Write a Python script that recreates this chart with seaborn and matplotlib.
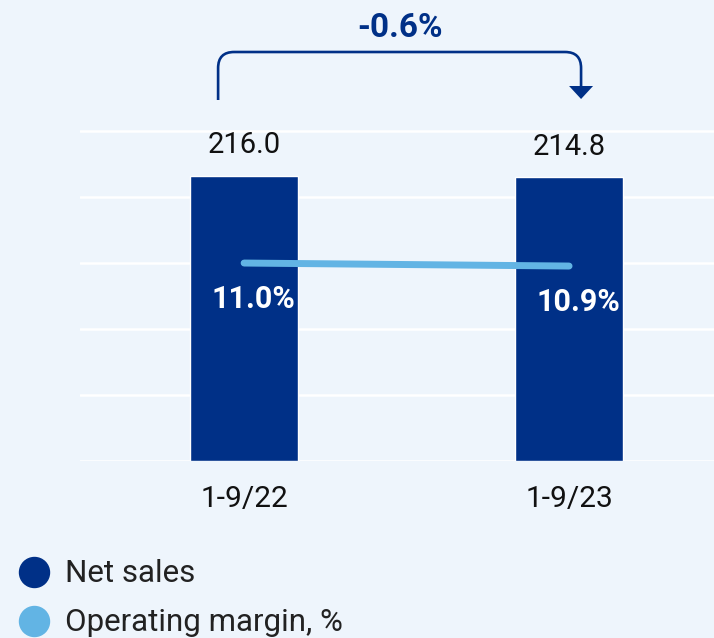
import numpy as np
import pandas as pd
import seaborn as sns
import matplotlib.pyplot as plt
from matplotlib.path import Path
from matplotlib.patches import PathPatch, Polygon
from matplotlib.lines import Line2D
from matplotlib.transforms import IdentityTransform

# data
periods = ['1-9/22', '1-9/23']
net_sales = [216.0, 214.8]
op_margin = [11.0, 10.9]
change_label = '-0.6%'
legend_labels = ['Net sales', 'Operating margin, %']

navy = '#003087'
light = '#62B4E4'
bg = '#EEF5FC'

sns.set_style('white', rc={'axes.facecolor': bg, 'figure.facecolor': bg})
plt.rcParams['font.family'] = ['Roboto', 'DejaVu Sans']

df = pd.DataFrame({'period': periods, 'sales': net_sales, 'margin': op_margin})

W, H = 714, 638
fig = plt.figure(figsize=(W / 100, H / 100), dpi=100)
ax = fig.add_axes([80 / W, 177 / H, 634 / W, 461 / H])

sns.barplot(data=df, x='period', y='sales', color=navy, width=0.332,
            saturation=1, ax=ax, zorder=3)
ax.set_xlim(-0.505, 1.446)
ax.set_ylim(0, 349.2)
ax.set_yticks(range(0, 251, 50))
ax.yaxis.grid(True, color='white', lw=1.8)
ax.set_axisbelow(True)
ax.tick_params(axis='y', length=0, labelleft=False)
ax.tick_params(axis='x', length=0, pad=17, labelsize=21.5, labelcolor='#111111')
ax.set_xlabel('')
ax.set_ylabel('')
sns.despine(ax=ax, left=True, bottom=True)

ax.bar_label(ax.containers[0], fmt='%.1f', padding=12, fontsize=21, color='#111111')

# operating margin on its own scale
ax2 = ax.twinx()
sns.lineplot(x=np.arange(len(periods)), y=op_margin, ax=ax2, color=light,
             lw=5, solid_capstyle='round', zorder=4)
ax2.set_ylim(4.4, 19.77)
ax2.axis('off')
for i, v in enumerate(op_margin):
    ax2.annotate(f'{v:.1f}%', (i, v), xytext=(7, -26), textcoords='offset points',
                 ha='center', va='center', color='white', fontsize=22,
                 fontweight='bold', zorder=5)

# change bracket arrow
c0 = ax.transData.transform((0, 0))[0]
c1 = ax.transData.transform((1, 0))[0]
x0, x1 = c0 - 26, c1 + 12
y_start, y_top, y_end, r = H - 100, H - 52, H - 88, 16
verts = [(x0, y_start), (x0, y_top - r), (x0, y_top), (x0 + r, y_top),
         (x1 - r, y_top), (x1, y_top), (x1, y_top - r), (x1, y_end)]
codes = [Path.MOVETO, Path.LINETO, Path.CURVE3, Path.CURVE3,
         Path.LINETO, Path.CURVE3, Path.CURVE3, Path.LINETO]
fig.add_artist(PathPatch(Path(verts, codes), fill=False, ec=navy, lw=1.9,
                         transform=IdentityTransform()))
fig.add_artist(Polygon([(x1 - 12, H - 86), (x1 + 12, H - 86), (x1, H - 99)],
                       closed=True, fc=navy, ec='none', transform=IdentityTransform()))
fig.text((x0 + x1) / 2 / W, (H - 28) / H, change_label, ha='center', va='center',
         fontsize=24, fontweight='bold', color=navy)

# legend
for i, (lab, c) in enumerate(zip(legend_labels, [navy, light])):
    yc = H - 572 - 49 * i
    fig.add_artist(Line2D([34 / W], [yc / H], marker='o', ms=21.6, color=c,
                          transform=fig.transFigure))
    fig.text(65 / W, (yc - 10) / H, lab, va='baseline', fontsize=22.5, color='#222222')

fig.savefig('out.png', dpi=100, facecolor=bg)
